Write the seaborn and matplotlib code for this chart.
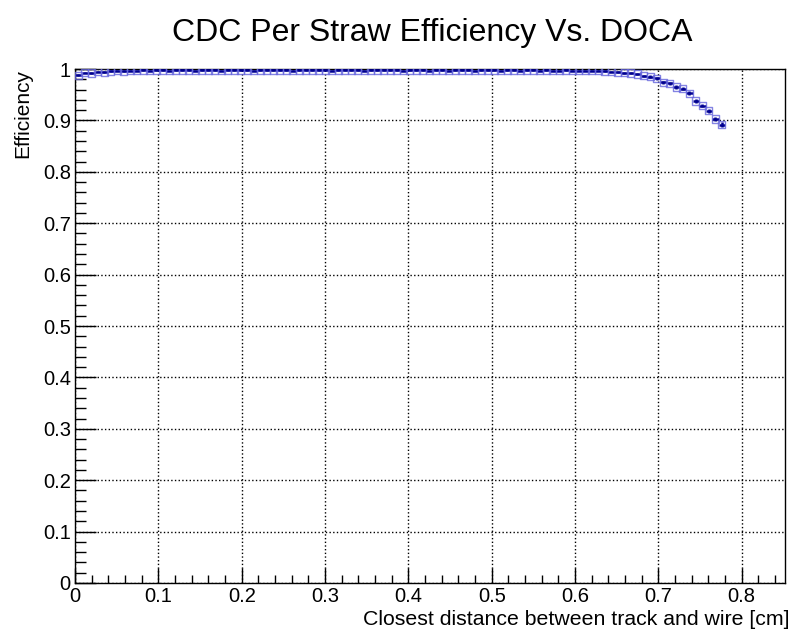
import numpy as np
import pandas as pd
import matplotlib
matplotlib.use("Agg")
import matplotlib.pyplot as plt
import seaborn as sns
from matplotlib.ticker import MultipleLocator

# efficiency per DOCA bin, 100 bins from 0 to 0.78 cm
bin_lo = 0.0
bin_hi = 0.78
efficiency = [
    0.988, 0.993, 0.992, 0.995, 0.994, 0.996, 0.997, 0.996, 0.997, 0.997,
    0.998, 0.997, 0.998, 0.998, 0.997, 0.998, 0.998, 0.998, 0.997, 0.998,
    0.998, 0.998, 0.997, 0.998, 0.998, 0.998, 0.998, 0.997, 0.998, 0.998,
    0.998, 0.998, 0.998, 0.997, 0.998, 0.998, 0.998, 0.998, 0.998, 0.997,
    0.998, 0.998, 0.998, 0.998, 0.997, 0.998, 0.998, 0.998, 0.998, 0.998,
    0.997, 0.998, 0.998, 0.998, 0.997, 0.998, 0.998, 0.997, 0.998, 0.998,
    0.998, 0.997, 0.998, 0.998, 0.998, 0.997, 0.998, 0.998, 0.997, 0.998,
    0.998, 0.997, 0.998, 0.997, 0.997, 0.998, 0.997, 0.997, 0.997, 0.997,
    0.997, 0.996, 0.995, 0.994, 0.993, 0.992, 0.990, 0.987, 0.985, 0.982,
    0.974, 0.972, 0.965, 0.962, 0.953, 0.938, 0.929, 0.919, 0.903, 0.892,
]
eff_err = [0.0015] * 80 + [
    0.0015, 0.0015, 0.0015, 0.002, 0.002, 0.002, 0.002, 0.002, 0.0025, 0.0025,
    0.003, 0.003, 0.003, 0.003, 0.0035, 0.0035, 0.0035, 0.004, 0.004, 0.004,
]

n = len(efficiency)
width = (bin_hi - bin_lo) / n
df = pd.DataFrame({
    "doca": bin_lo + width * (np.arange(n) + 0.5),
    "eff": efficiency,
    "err": eff_err,
})

sns.set_style("ticks")
plt.rcParams["font.family"] = ["Liberation Sans", "DejaVu Sans"]
plt.rcParams["text.color"] = "black"
plt.rcParams["axes.labelcolor"] = "black"
plt.rcParams["xtick.color"] = "black"
plt.rcParams["ytick.color"] = "black"

fig = plt.figure(figsize=(7.94, 6.31), dpi=100)
ax = fig.add_axes([0.0945, 0.0761, 0.8942, 0.8145])

ax.errorbar(df["doca"], df["eff"], xerr=width / 2, yerr=df["err"],
            fmt="none", ecolor="#000090", elinewidth=1.8, capsize=0, zorder=3)
sns.scatterplot(data=df, x="doca", y="eff", marker="s", s=28,
                facecolor="none", edgecolor="#6666dd", linewidth=1.0,
                alpha=0.8, ax=ax, zorder=4)

ax.set_xlim(0, 0.852)
ax.set_ylim(0, 1)
ax.xaxis.set_major_locator(MultipleLocator(0.1))
ax.xaxis.set_minor_locator(MultipleLocator(0.02))
ax.yaxis.set_major_locator(MultipleLocator(0.1))
ax.yaxis.set_minor_locator(MultipleLocator(0.02))
ax.set_xticklabels(["0" if abs(t) < 1e-9 else f"{t:g}" for t in ax.get_xticks()])
ax.set_yticklabels(["0" if abs(t) < 1e-9 else f"{t:g}" for t in ax.get_yticks()])

ax.tick_params(axis="both", which="both", direction="in", labelsize=14.5,
               color="black", labelcolor="black", width=1.0)
ax.tick_params(axis="x", which="major", length=11, pad=3)
ax.tick_params(axis="x", which="minor", length=5.5)
ax.tick_params(axis="y", which="major", length=15, pad=3)
ax.tick_params(axis="y", which="minor", length=8)

ax.grid(True, which="major", linestyle=":", color="black", linewidth=1.0)
for s in ax.spines.values():
    s.set_color("black")
    s.set_linewidth(1.0)

ax.set_xlabel("Closest distance between track and wire [cm]", fontsize=15.3,
              color="black", labelpad=0)
ax.xaxis.set_label_coords(1.007, -0.053, transform=ax.transAxes)
ax.xaxis.label.set_horizontalalignment("right")
ax.set_ylabel("Efficiency", fontsize=15, color="black", loc="top", labelpad=8)
fig.suptitle("CDC Per Straw Efficiency Vs. DOCA", fontsize=23, x=0.544,
             y=0.972, color="black")

fig.savefig("out.png", dpi=100)
